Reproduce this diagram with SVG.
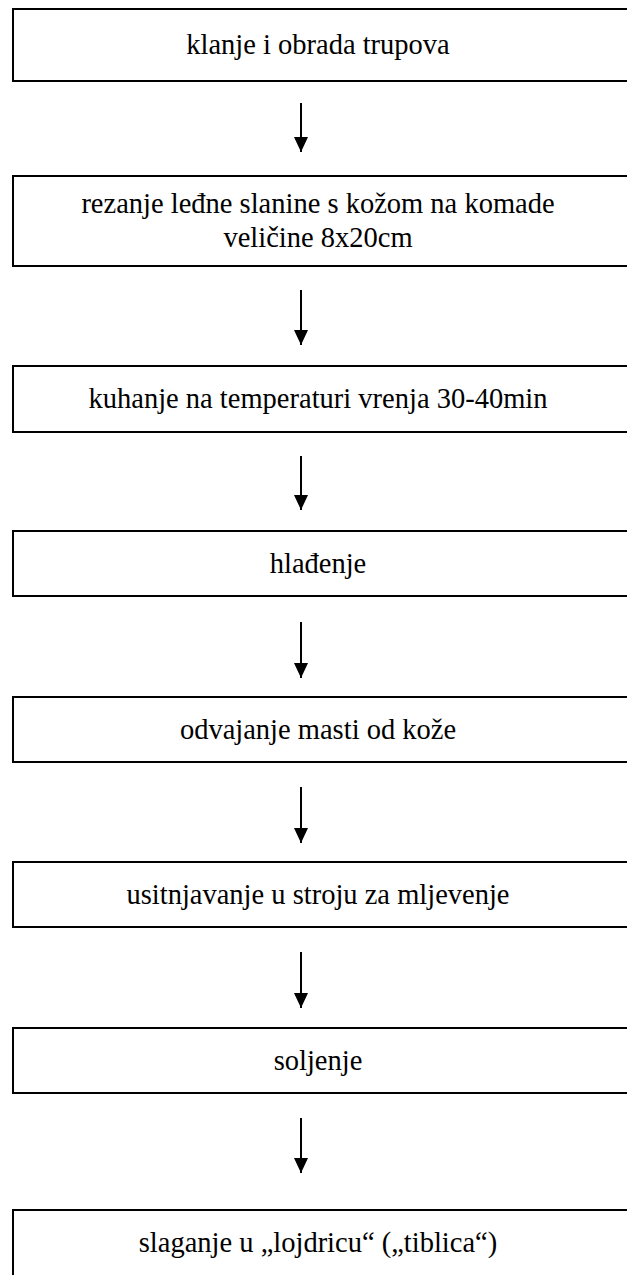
<svg xmlns="http://www.w3.org/2000/svg" width="627" height="1275" viewBox="0 0 627 1275">
<style>
.box{fill:#fff;stroke:#000;stroke-width:2}
.t{font-size:28.5px;fill:#000;text-anchor:middle}
.c{stroke:#000;stroke-width:2;fill:none}
</style>
<defs>
<marker id="ah" markerUnits="userSpaceOnUse" markerWidth="16" markerHeight="16" refX="15" refY="7" orient="auto" viewBox="0 0 16 14">
<path d="M0,0 L15,7 L0,14 Z" fill="#000"/>
</marker>
</defs>
<rect width="627" height="1275" fill="#fff"/>
<g id="n1"><rect class="box" x="13" y="9" width="625" height="72"/><text class="t" font-family="Liberation Serif, serif" x="318" y="54">klanje i obrada trupova</text></g>
<g id="n2"><rect class="box" x="13" y="176" width="625" height="90"/><text class="t" font-family="Liberation Serif, serif" x="318" y="213">rezanje leđne slanine s kožom na komade</text><text class="t" font-family="Liberation Serif, serif" x="318" y="247">veličine 8x20cm</text></g>
<g id="n3"><rect class="box" x="13" y="366" width="625" height="66"/><text class="t" font-family="Liberation Serif, serif" x="318" y="408">kuhanje na temperaturi vrenja 30-40min</text></g>
<g id="n4"><rect class="box" x="13" y="531" width="625" height="65"/><text class="t" font-family="Liberation Serif, serif" x="318" y="573">hlađenje</text></g>
<g id="n5"><rect class="box" x="13" y="697" width="625" height="65"/><text class="t" font-family="Liberation Serif, serif" x="318" y="739">odvajanje masti od kože</text></g>
<g id="n6"><rect class="box" x="13" y="862" width="625" height="65"/><text class="t" font-family="Liberation Serif, serif" x="318" y="904">usitnjavanje u stroju za mljevenje</text></g>
<g id="n7"><rect class="box" x="13" y="1028" width="625" height="65"/><text class="t" font-family="Liberation Serif, serif" x="318" y="1070">soljenje</text></g>
<g id="n8"><rect class="box" x="13" y="1210" width="625" height="80"/><text class="t" font-family="Liberation Serif, serif" x="318" y="1252">slaganje u „lojdricu“ („tiblica“)</text></g>
<g id="connectors">
<line class="c" x1="301" y1="103" x2="301" y2="152" marker-end="url(#ah)"/>
<line class="c" x1="301" y1="290" x2="301" y2="345" marker-end="url(#ah)"/>
<line class="c" x1="301" y1="456" x2="301" y2="510" marker-end="url(#ah)"/>
<line class="c" x1="301" y1="622" x2="301" y2="678" marker-end="url(#ah)"/>
<line class="c" x1="301" y1="787" x2="301" y2="843" marker-end="url(#ah)"/>
<line class="c" x1="301" y1="952" x2="301" y2="1008" marker-end="url(#ah)"/>
<line class="c" x1="301" y1="1118" x2="301" y2="1173" marker-end="url(#ah)"/>
</g>
</svg>
